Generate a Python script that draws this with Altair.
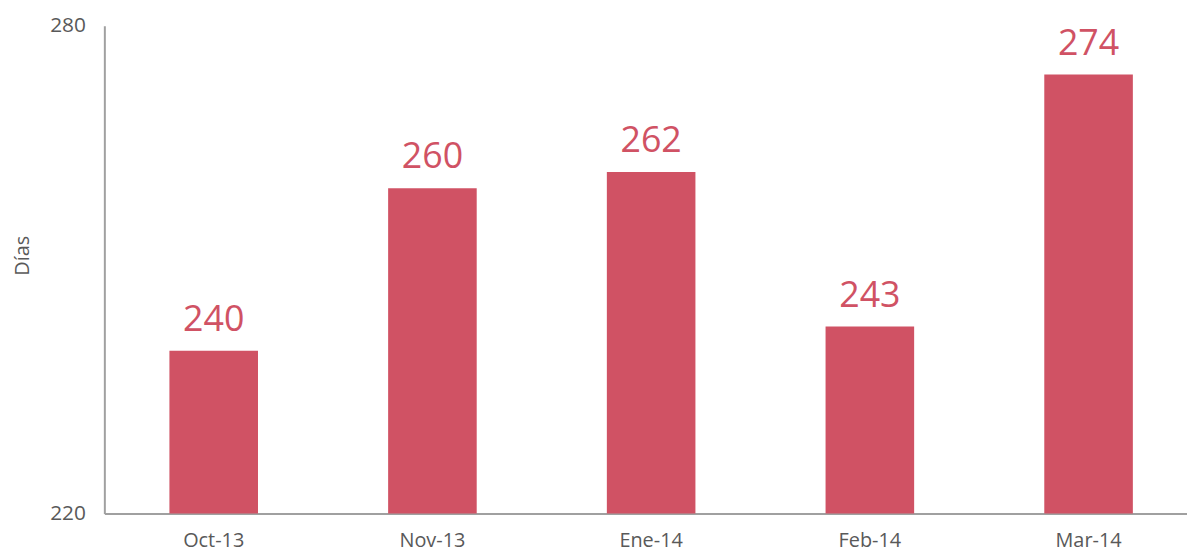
import altair as alt
import pandas as pd

months = ["Oct-13", "Nov-13", "Ene-14", "Feb-14", "Mar-14"]
dias = [240, 260, 262, 243, 274]
y_ticks = [220, 280]

df = pd.DataFrame({"mes": months, "dias": dias})

FONT = "Open Sans"
BAR = "#D05264"
GREY = "#595959"

base = alt.Chart(df).encode(
    x=alt.X("mes:N", sort=months, title=None,
            scale=alt.Scale(paddingInner=0.595, paddingOuter=0.2975),
            axis=alt.Axis(labelAngle=0, labelFont=FONT, labelFontSize=20, labelColor=GREY,
                          labelPadding=17, ticks=False, domainColor="#A0A0A0", domainWidth=2,
                          grid=False)),
    y=alt.Y("dias:Q", title="Días",
            scale=alt.Scale(domain=[220, 280], nice=False, zero=False),
            axis=alt.Axis(values=y_ticks, labelFont=FONT, labelFontSize=21, labelColor=GREY,
                          labelPadding=19, ticks=False, domainColor="#A0A0A0", domainWidth=2,
                          grid=False, titleFont=FONT, titleFontSize=20, titleColor=GREY,
                          titleFontWeight="normal", titlePadding=17, titleY=231)),
)

bars = base.mark_bar(color=BAR, clip=True)
labels = base.mark_text(color=BAR, font=FONT, fontSize=36, baseline="bottom", dy=-12).encode(
    text=alt.Text("dias:Q"))

chart = (bars + labels).properties(
    width=1101, height=491,
    background="white",
    padding={"left": 97, "top": 16, "right": -11, "bottom": 37},
    autosize=alt.AutoSizeParams(type="none"),
).configure_view(stroke=None)

chart.save("out.html", embed_options={"renderer": "svg", "actions": False})
